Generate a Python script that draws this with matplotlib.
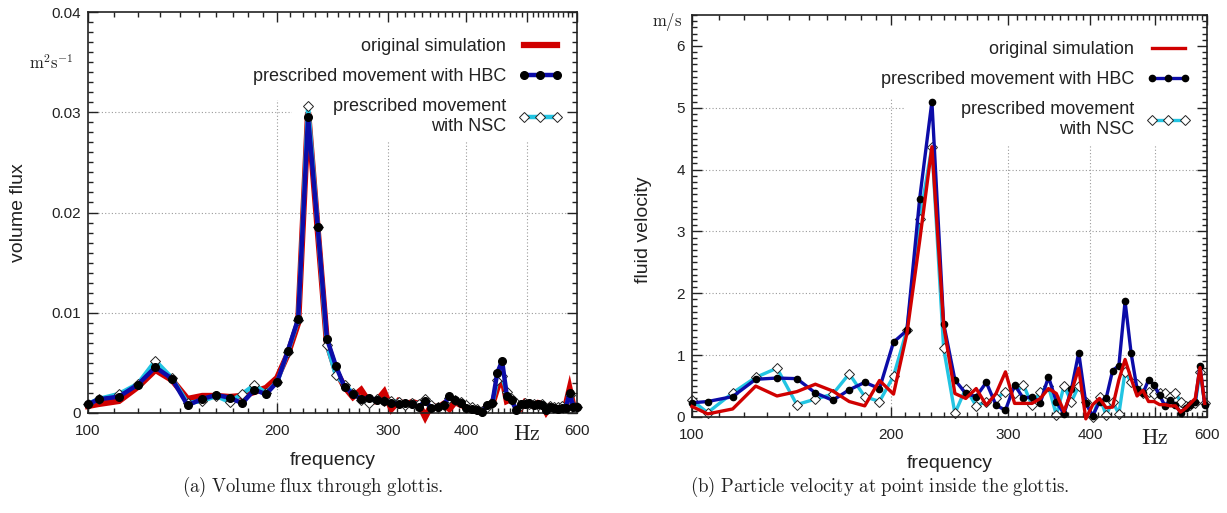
import matplotlib
matplotlib.use('Agg')
import matplotlib.pyplot as plt
import matplotlib.ticker as ticker
from matplotlib.patches import Rectangle

plt.rcParams['font.family'] = ['Liberation Sans', 'DejaVu Sans']
plt.rcParams['mathtext.fontset'] = 'cm'

""" DATA """

# (a) volume flux through glottis
freq_a = [100, 104, 112, 120, 128, 136, 144, 152, 160, 168, 176, 184, 192, 200, 208, 216,
          224, 232, 240, 248, 256, 264, 272, 280, 288, 296, 304, 312, 320, 328, 336, 344,
          352, 360, 368, 376, 384, 392, 400, 408, 416, 424, 432, 440, 448, 456, 464, 472,
          480, 488, 496, 504, 512, 520, 528, 536, 544, 552, 560, 568, 576, 584, 592, 600]
orig_a = [0.0007, 0.0009, 0.0012, 0.0026, 0.0043, 0.0033, 0.0014, 0.0017, 0.0017, 0.0016, 0.0017, 0.0021, 0.0025, 0.0035, 0.0059, 0.0090,
          0.0300, 0.0183, 0.0070, 0.0042, 0.0026, 0.0016, 0.0023, 0.0011, 0.0012, 0.0021, 0.0004, 0.0012, 0.0008, 0.0011, 0.0009, -0.0004,
          0.0008, 0.0005, 0.0009, 0.0004, 0.0011, 0.0008, 0.0006, 0.0003, 0.0002, 0.0001, 0.0008, 0.0009, 0.0025, 0.0036, 0.0012, 0.0014,
          0.0008, 0.0005, 0.0011, 0.0009, 0.0007, 0.0010, 0.0009, 0.0001, 0.0007, 0.0006, 0.0005, 0.0006, 0.0008, 0.0024, 0.0007, 0.0006]
hbc_a = [0.00087, 0.00137, 0.00163, 0.00283, 0.00457, 0.00343, 0.00077, 0.0014, 0.0018, 0.00153, 0.00097, 0.00233, 0.00187, 0.0031, 0.0062, 0.0094,
         0.0295, 0.0186, 0.0074, 0.0047, 0.0026, 0.0019, 0.0014, 0.0015, 0.0013, 0.0012, 0.0010, 0.0009, 0.0010, 0.0009, 0.0006, 0.0012,
         0.0005, 0.0006, 0.0008, 0.0017, 0.0013, 0.0010, 0.0005, 0.0004, 0.0003, 0.0001, 0.0008, 0.0010, 0.0040, 0.0052, 0.0017, 0.0013,
         0.0003, 0.0009, 0.0009, 0.0010, 0.0008, 0.0009, 0.0008, 0.0003, 0.0006, 0.0005, 0.0004, 0.0005, 0.0005, 0.0020, 0.0006, 0.0006]
nsc_a = [0.0009, 0.0014, 0.0019, 0.0029, 0.0052, 0.0035, 0.0010, 0.0012, 0.0017, 0.0011, 0.0019, 0.0028, 0.0020, 0.0031, 0.0061, 0.0093,
         0.0306, 0.0186, 0.0068, 0.0038, 0.0028, 0.0020, 0.0013, 0.0010, 0.0014, 0.0012, 0.0012, 0.0011, 0.0008, 0.0010, 0.0009, 0.0014,
         0.0008, 0.0006, 0.0008, 0.0015, 0.0013, 0.0011, 0.0008, 0.0006, 0.0004, 0.0002, 0.0006, 0.0010, 0.0033, 0.0037, 0.0021, 0.0014,
         0.0010, 0.0008, 0.0010, 0.0009, 0.0009, 0.0008, 0.0009, 0.0005, 0.0007, 0.0006, 0.0006, 0.0007, 0.0006, 0.0018, 0.0007, 0.0006]

# (b) particle velocity inside the glottis
freq_b = [100, 105.6, 115.2, 124.8, 134.4, 144.0, 153.6, 163.2, 172.8, 182.4, 192.0, 201.6, 211.2, 220.8,
          230.4, 240.0, 249.6, 259.2, 268.8, 278.4, 288.0, 297.6, 307.2, 316.8, 326.4, 336.0, 345.6, 355.2,
          364.8, 374.4, 384.0, 393.6, 403.2, 412.8, 422.4, 432.0, 441.6, 451.2, 460.8, 470.4, 480.0, 489.6,
          499.2, 508.8, 518.4, 528.0, 537.6, 547.2, 556.8, 566.4, 576.0, 585.6, 595.2]
orig_b = [0.17, 0.05, 0.13, 0.50, 0.34, 0.41, 0.53, 0.42, 0.25, 0.18, 0.59, 0.37, 1.35, 2.85,
          4.37, 1.48, 0.38, 0.30, 0.46, 0.19, 0.38, 0.73, 0.22, 0.22, 0.22, 0.30, 0.46, 0.38,
          0.09, 0.41, 0.79, -0.03, 0.20, 0.30, 0.15, 0.16, 0.60, 0.93, 0.62, 0.34, 0.43, 0.25,
          0.25, 0.20, 0.20, 0.18, 0.18, 0.08, 0.14, 0.22, 0.30, 0.80, 0.22]
hbc_b = [0.23, 0.25, 0.33, 0.61, 0.63, 0.62, 0.39, 0.27, 0.44, 0.56, 0.46, 1.21, 1.40, 3.53,
         5.10, 1.51, 0.60, 0.38, 0.33, 0.56, 0.19, 0.11, 0.52, 0.30, 0.33, 0.23, 0.65, 0.25,
         0.05, 0.45, 1.04, 0.22, 0.02, 0.25, 0.30, 0.75, 0.83, 1.87, 1.03, 0.45, 0.38, 0.60,
         0.52, 0.35, 0.18, 0.28, 0.20, 0.07, 0.15, 0.20, 0.25, 0.83, 0.20]
nsc_b = [0.27, 0.07, 0.39, 0.64, 0.79, 0.20, 0.29, 0.37, 0.70, 0.33, 0.25, 0.66, 1.41, 3.20,
         4.37, 1.11, 0.06, 0.46, 0.18, 0.25, 0.30, 0.41, 0.38, 0.52, 0.19, 0.41, 0.50, 0.03,
         0.50, 0.25, 0.50, 0.25, 0.00, 0.33, 0.03, 0.25, 0.05, 0.73, 0.57, 0.53, 0.39, 0.40,
         0.37, 0.38, 0.39, 0.33, 0.39, 0.25, 0.17, 0.20, 0.22, 0.73, 0.23]

labels = ['original simulation', 'prescribed movement with HBC', 'prescribed movement\nwith NSC']

x_major = [100, 200, 300, 400, 500, 600]
x_minor = list(range(110, 600, 10))
x_ticklabels = ['100', '200', '300', '400', r'$\mathrm{Hz}$', '600']

y_major_a = [0, 0.01, 0.02, 0.03, 0.04]
y_labels_a = ['0', '0.01', '0.02', '0.03', '0.04']
y_major_b = [0, 1, 2, 3, 4, 5, 6]
y_labels_b = ['0', '1', '2', '3', '4', '5', '6']

RED = '#d00000'
BLUE = '#0c0ca8'
CYAN = '#22c4e2'
GRID = '#9a9a9a'
INK = '#222222'

W, H = 1227, 513


def px_box(x0, y0, x1, y1):
    """ figure fraction box from pixel corners (top-left origin) """
    return [x0 / W, 1 - y1 / H, (x1 - x0) / W, (y1 - y0) / H]


def style_axes(ax, ylim, y_major, y_labels, y_minor, grid_y, masks):
    ax.set_xscale('log')
    ax.set_xlim(100, 600)
    ax.set_ylim(*ylim)
    ax.xaxis.set_major_locator(ticker.FixedLocator(x_major))
    ax.xaxis.set_minor_locator(ticker.FixedLocator(x_minor))
    ax.xaxis.set_major_formatter(ticker.FixedFormatter(x_ticklabels))
    ax.xaxis.set_minor_formatter(ticker.NullFormatter())
    ax.yaxis.set_major_locator(ticker.FixedLocator(y_major))
    ax.yaxis.set_major_formatter(ticker.FixedFormatter(y_labels))
    ax.yaxis.set_minor_locator(ticker.MultipleLocator(y_minor))
    ax.tick_params(which='both', direction='in', top=True, right=True, width=1.0, color=INK)
    ax.tick_params(which='major', length=7, labelsize=11, labelcolor=INK)
    ax.tick_params(which='minor', length=3.5)
    ax.tick_params(axis='x', pad=8)
    ax.tick_params(axis='y', pad=5)
    ax.xaxis.get_major_ticks()[4].label1.set_fontsize(16)
    for s in ax.spines.values():
        s.set_linewidth(1.2)
        s.set_color(INK)

    # dotted grid, partly hidden behind the key
    for v in x_major[1:-1]:
        ax.axvline(v, color=GRID, ls=(0, (1, 2)), lw=0.8, zorder=0.3)
    for v in grid_y:
        ax.axhline(v, color=GRID, ls=(0, (1, 2)), lw=0.8, zorder=0.3)
    for (x0, y0, w, h) in masks:
        ax.add_patch(Rectangle((x0, y0), w, h, transform=ax.transAxes,
                               facecolor='white', edgecolor='none', zorder=0.6))


def add_key(ax, handles, anchor):
    leg = ax.legend(handles, labels, loc='upper right', bbox_to_anchor=anchor,
                    frameon=False, markerfirst=False, numpoints=3, handlelength=2.4,
                    fontsize=13, labelspacing=0.73, borderpad=0, borderaxespad=0,
                    handletextpad=0.7)
    for t in leg.get_texts():
        t.set_multialignment('right')
        t.set_color(INK)
    return leg


fig = plt.figure(figsize=(W / 100, H / 100), dpi=100)

# ---------- (a) volume flux ----------
ax0 = fig.add_axes(px_box(88, 12, 577, 413))
style_axes(ax0, (0, 0.04), y_major_a, y_labels_a, 0.001, [0.01, 0.02, 0.03],
           [(0.331, 0.781, 0.669, 0.219), (0.417, 0.676, 0.583, 0.324)])
l_orig, = ax0.plot(freq_a, orig_a, color=RED, lw=4.5, zorder=2, clip_on=False,
                   solid_joinstyle='miter')
l_nsc, = ax0.plot(freq_a, nsc_a, color=CYAN, lw=3.2, marker='D', ms=5.5, mfc='white',
                  mec=INK, mew=0.7, zorder=3, clip_on=False)
l_hbc, = ax0.plot(freq_a, hbc_a, color=BLUE, lw=3.2, marker='o', ms=5.5, mfc='black',
                  mec='black', zorder=4, clip_on=False)
add_key(ax0, [l_orig, l_hbc, l_nsc], ((562 - 88) / 489, (413 - 38) / 401))

ax0.set_xlabel('frequency', fontsize=14, color=INK)
ax0.xaxis.set_label_coords(0.5, -0.098)
ax0.set_ylabel('volume flux', fontsize=14, color=INK)
ax0.yaxis.set_label_coords(-0.125, 0.5)
ax0.text(-0.03, 0.875, r'$\mathrm{m^2s^{-1}}$', transform=ax0.transAxes,
         ha='right', va='center', fontsize=12, color=INK)

# ---------- (b) fluid velocity ----------
ax1 = fig.add_axes(px_box(692, 15, 1207, 417))
style_axes(ax1, (0, 6.5), y_major_b, y_labels_b, 0.1, [1, 2, 3, 4, 5, 6],
           [(0.0, 0.9, 1.0, 0.1), (0.365, 0.794, 0.635, 0.206), (0.414, 0.677, 0.586, 0.323)])
l_nsc_b, = ax1.plot(freq_b, nsc_b, color=CYAN, lw=2.4, marker='D', ms=5.5, mfc='white',
                    mec=INK, mew=0.7, zorder=2, clip_on=False)
l_hbc_b, = ax1.plot(freq_b, hbc_b, color=BLUE, lw=2.4, marker='o', ms=4.5, mfc='black',
                    mec='black', zorder=3, clip_on=False)
l_orig_b, = ax1.plot(freq_b, orig_b, color=RED, lw=2.4, zorder=4, clip_on=False)
add_key(ax1, [l_orig_b, l_hbc_b, l_nsc_b], ((1190 - 692) / 515, (417 - 41) / 402))

ax1.set_xlabel('frequency', fontsize=14, color=INK)
ax1.xaxis.set_label_coords(0.5, -0.095)
ax1.set_ylabel('fluid velocity', fontsize=14, color=INK)
ax1.yaxis.set_label_coords(-0.078, 0.465)
ax1.text(-0.019, 0.983, r'$\mathrm{m/s}$', transform=ax1.transAxes,
         ha='right', va='center', fontsize=12, color=INK)

# captions
fig.text(313 / W, 1 - 487 / H, r'$\mathrm{(a)\ Volume\ flux\ through\ glottis.}$',
         ha='center', va='center', fontsize=13.5, color=INK)
fig.text(880 / W, 1 - 487 / H, r'$\mathrm{(b)\ Particle\ velocity\ at\ point\ inside\ the\ glottis.}$',
         ha='center', va='center', fontsize=13.5, color=INK)

fig.savefig('out.png', dpi=100)
